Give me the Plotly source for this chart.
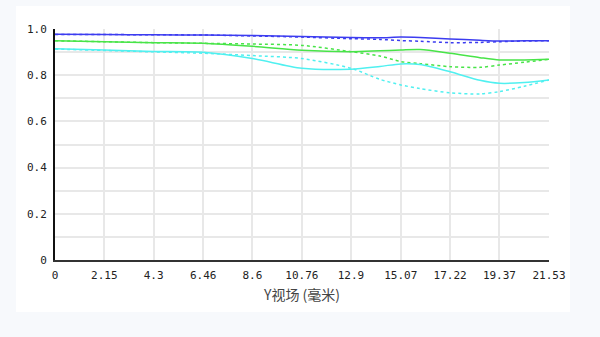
import plotly.graph_objects as go

x_vals = [0, 2.15, 4.3, 6.46, 8.6, 10.76, 12.9, 14.16, 15.07, 15.91, 17.22, 18.52, 19.37, 20.45, 21.53]
tick_vals = [0, 2.15, 4.3, 6.46, 8.6, 10.76, 12.9, 15.07, 17.22, 19.37, 21.53]
tick_text = ["0", "2.15", "4.3", "6.46", "8.6", "10.76", "12.9", "15.07", "17.22", "19.37", "21.53"]
y_ticks = [0, 0.2, 0.4, 0.6, 0.8, 1.0]
y_text = ["0", "0.2", "0.4", "0.6", "0.8", "1.0"]

blue_solid = [0.977, 0.976, 0.975, 0.974, 0.972, 0.968, 0.963, 0.962, 0.965, 0.963, 0.957, 0.951, 0.948, 0.949, 0.949]
blue_dot = [0.976, 0.976, 0.975, 0.974, 0.970, 0.965, 0.958, 0.955, 0.950, 0.947, 0.941, 0.942, 0.945, 0.948, 0.949]
green_solid = [0.949, 0.945, 0.941, 0.938, 0.925, 0.908, 0.902, 0.906, 0.909, 0.911, 0.895, 0.876, 0.866, 0.866, 0.869]
green_dot = [0.949, 0.945, 0.941, 0.938, 0.935, 0.929, 0.902, 0.883, 0.859, 0.850, 0.837, 0.834, 0.844, 0.856, 0.869]
cyan_solid = [0.914, 0.909, 0.903, 0.899, 0.872, 0.830, 0.826, 0.838, 0.849, 0.846, 0.815, 0.778, 0.765, 0.768, 0.779]
cyan_dot = [0.913, 0.907, 0.901, 0.895, 0.885, 0.872, 0.830, 0.782, 0.758, 0.742, 0.724, 0.719, 0.729, 0.752, 0.779]

series = [
    (blue_solid, "#3c3cf0", "solid"),
    (blue_dot, "#3c3cf0", "dot"),
    (green_solid, "#48e448", "solid"),
    (green_dot, "#48e448", "dot"),
    (cyan_solid, "#50f0f0", "solid"),
    (cyan_dot, "#50f0f0", "dot"),
]

fig = go.Figure()
for ys, col, dash in series:
    fig.add_trace(go.Scatter(x=x_vals, y=ys, mode="lines",
                             line=dict(color=col, width=1.5, dash=dash, shape="spline", smoothing=0.8),
                             showlegend=False, hoverinfo="skip"))

# white card
fig.add_shape(type="rect", xref="paper", yref="paper", x0=-0.079, x1=1.0425, y0=-0.225, y1=1.0996,
              fillcolor="white", line=dict(width=0), layer="below")

mono = "DejaVu Sans Mono, monospace"
fig.update_layout(
    width=600, height=337,
    margin=dict(l=55, r=51, t=29, b=77),
    paper_bgcolor="#f7f9fc",
    plot_bgcolor="white",
    xaxis=dict(range=[0, 21.53], tickvals=tick_vals, ticktext=tick_text,
               showgrid=True, gridcolor="#e8e8e8", gridwidth=1.5,
               showline=True, linecolor="#333333", linewidth=2,
               ticks="outside", ticklen=4, tickcolor="rgba(0,0,0,0)",
               tickfont=dict(family=mono, size=11, color="#222222"),
               title=dict(text="Y视场 (毫米)", font=dict(family="Noto Sans CJK SC, sans-serif", size=14, color="#444444"), standoff=9),
               zeroline=False),
    yaxis=dict(range=[0, 1.0], tickvals=y_ticks, ticktext=y_text,
               showgrid=True, gridcolor="#e8e8e8", gridwidth=1.5,
               minor=dict(dtick=0.1, showgrid=True, gridcolor="#e8e8e8", gridwidth=1.5),
               showline=True, linecolor="#111111", linewidth=2,
               ticks="outside", ticklen=4, tickcolor="rgba(0,0,0,0)",
               tickfont=dict(family=mono, size=11, color="#222222"),
               zeroline=False),
)
fig.write_html("out.html")
